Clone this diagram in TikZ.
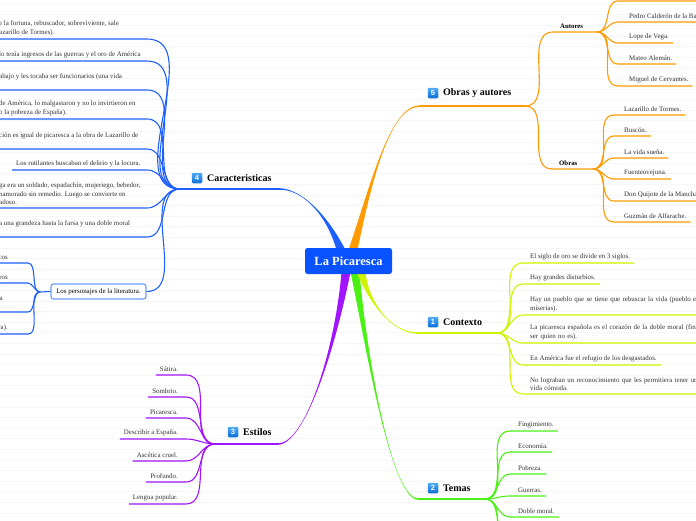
\documentclass[tikz,border=0pt]{standalone}
\usepackage{fontspec}
\setmainfont{Liberation Serif}
\setsansfont{Liberation Sans}
\usepackage{xcolor}
\usepackage{tikz}
\usetikzlibrary{calc,positioning}

\definecolor{picblue}{RGB}{8,82,255}
\definecolor{carblue}{RGB}{30,95,255}
\definecolor{boxblue}{RGB}{110,155,255}
\definecolor{obrorange}{RGB}{255,155,0}
\definecolor{conyellow}{RGB}{205,245,0}
\definecolor{temgreen}{RGB}{75,240,20}
\definecolor{estpurple}{RGB}{160,20,255}
\definecolor{iconlight}{RGB}{80,170,245}
\definecolor{icondark}{RGB}{10,110,215}
\definecolor{leafgray}{RGB}{50,50,50}

\begin{document}
\begin{tikzpicture}[x=1pt, y=-1pt,
    leaf/.style={font=\fontsize{6.9}{8.4}\selectfont, text=leafgray, inner xsep=4pt, inner ysep=3pt, align=left},
    wideleaf/.style={leaf, text width=230pt},
    title/.style={font=\fontsize{10}{12}\selectfont\bfseries, inner sep=0pt},
    sub/.style={font=\fontsize{6.8}{8}\selectfont\bfseries, inner xsep=7pt, inner ysep=3pt},
    icon/.style={top color=iconlight, bottom color=icondark, rounded corners=1.2pt, text=white,
        font=\fontsize{7.5}{7.5}\selectfont\sffamily\bfseries, minimum size=10.5pt, inner sep=0pt},
    twig/.style={line width=1.1pt},
    bough/.style={line width=1.6pt},
    root/.style={fill=picblue, text=white, rounded corners=2.5pt, minimum width=87pt, minimum height=26pt,
        font=\fontsize{12.5}{14}\selectfont\bfseries},
    pbox/.style={leaf, text=black, fill=white, draw=boxblue, line width=1.2pt, rounded corners=2.5pt,
        minimum width=95pt, minimum height=15pt, inner ysep=0pt},
    gridline/.style={black!3.5, line width=0.6pt}]
    \useasboundingbox (0,0) rectangle (696,520);
    \clip (0,0) rectangle (696,520);
    \foreach \k in {0,...,49}
        \draw[gridline] (0,{4+\k*10.6}) -- (696,{4+\k*10.6});

    \coordinate (r4) at (341,250);
    \coordinate (r5) at (353,250);
    \coordinate (r3) at (346,272);
    \coordinate (r2) at (355,272);
    \coordinate (r1) at (361,272);
    \coordinate (e4) at (280,189);
    \coordinate (e5) at (420,106);
    \coordinate (e3) at (278,444);
    \coordinate (e2) at (418,499);
    \coordinate (e1) at (418,333);
    \coordinate (h4) at (180,189);
    \coordinate (h5) at (525,106);
    \coordinate (h3) at (215,444);
    \coordinate (h2) at (485,499);
    \coordinate (h1) at (497,333);

    \foreach \col/\r/\e/\ca/\cb/\s in {carblue/r4/e4/{326,212}/{300,189}/1,
        obrorange/r5/e5/{372,180}/{390,106}/-1, estpurple/r3/e3/{335,350}/{305,444}/-1,
        temgreen/r2/e2/{365,340}/{390,499}/1, conyellow/r1/e1/{368,300}/{390,333}/1} {
        \fill[\col] ($(\r)+(-4.5,0)$) .. controls (\ca) and (\cb) .. ($(\e)+(0,{\s*0.8})$)
            -- ($(\e)-(0,{\s*0.8})$) .. controls (\cb) and (\ca) .. ($(\r)+(4.5,0)$) -- cycle;
    }
    \draw[bough, carblue] (e4) -- (h4);
    \draw[bough, obrorange] (e5) -- (h5);
    \draw[bough, estpurple] (e3) -- (h3);
    \draw[bough, temgreen] (e2) -- (h2);
    \draw[bough, conyellow] (e1) -- (h1);

    \node[root] (pic) at (348.5,261) {La Picaresca};

    \node[icon] (i4) at (197,178) {4};
    \node[title, right=4.5pt of i4] (t4) {Caracteristicas};
    \node[icon] (i5) at (433,93) {5};
    \node[title, right=4.5pt of i5] (t5) {Obras y autores};
    \node[icon] (i1) at (433,322) {1};
    \node[title, right=4.5pt of i1] (t1) {Contexto};
    \node[icon] (i2) at (433,488) {2};
    \node[title, right=4.5pt of i2] (t2) {Temas};
    \node[icon] (i3) at (233,432) {3};
    \node[title, right=4.5pt of i3] (t3) {Estilos};

    \coordinate (c4x) at (147,0);
    \node[leaf, anchor=south west] (ca) at (-5,39) {e la fortuna, rebuscador, sobreviviente, sale\\azarillo de Tormes).};
    \node[leaf, anchor=south west] (cb) at (-5,61) {lo tenía ingresos de las guerras y el oro de América};
    \node[leaf, anchor=south west] (cc) at (-5,90) {abajo y les tocaba ser funcionarios (una vida\\\mbox{}};
    \node[leaf, anchor=south west] (cd) at (-5,119) {de América, lo malgastaron y no lo invirtieron en\\o la pobreza de España).};
    \node[leaf, anchor=south west] (ce) at (-5,149) {ción es igual de picaresca a la obra de Lazarillo de\\\mbox{}};
    \node[leaf, anchor=south west] (cf) at (12,170) {Los rutilantes buscaban el delirio y la locura.};
    \node[leaf, anchor=south west] (cg) at (-5,208) {ga era un soldado, espadachín, mujeriego, bebedor,\\namorado sin remedio. Luego se convierte en\\adoso.};
    \node[leaf, anchor=south west] (ch) at (-5,237) {a una grandeza hasta la farsa y una doble moral\\\mbox{}};
    \foreach \n in {ca,cb,cc,cd,ce,cf,cg,ch}
        \draw[twig, carblue] (\n.south west) -- (\n.south west -| c4x) to[out=0,in=180] (h4);

    \node[pbox] (pers) at (98.5,291.5) {Los personajes de la literatura.};
    \draw[twig, carblue] (pers.east) to[out=0,in=180] (h4);
    \coordinate (pH) at (40,292);
    \coordinate (p4x) at (28,0);
    \draw[twig, carblue] (pers.west) -- (pH);
    \node[leaf, anchor=south east] (pa) at (12,263) {icos};
    \node[leaf, anchor=south east] (pb) at (12,283) {ros};
    \node[leaf, anchor=south east] (pc) at (7,312) {a\\\mbox{}};
    \node[leaf, anchor=south east] (pd) at (12,334) {ra).};
    \foreach \n in {pa,pb,pc,pd}
        \draw[twig, carblue] (\n.south west) -- (\n.south west -| p4x) to[out=0,in=180, looseness=0.8] (pH);

    \coordinate (e3x) at (186,0);
    \node[leaf, anchor=south east] (sa) at (182,375) {Sátira.};
    \node[leaf, anchor=south east] (sb) at (182,397) {Sombrio.};
    \node[leaf, anchor=south east] (sc) at (182,418) {Picaresca.};
    \node[leaf, anchor=south east] (sd) at (182,439) {Describir a España.};
    \node[leaf, anchor=south east] (se) at (182,461) {Ascética cruel.};
    \node[leaf, anchor=south east] (sf) at (182,482) {Profundo.};
    \node[leaf, anchor=south east] (sg) at (182,504) {Lengua popular.};
    \foreach \n in {sa,sb,sc,sd,se,sf,sg}
        \draw[twig, estpurple] (\n.south west) -- (\n.south west -| e3x) to[out=0,in=180] (h3);

    \coordinate (k1x) at (523,0);
    \node[leaf, anchor=south west] (ka) at (526,263) {El siglo de oro se divide en 3 siglos.};
    \node[leaf, anchor=south west] (kb) at (526,284) {Hay grandes disturbios.};
    \node[wideleaf, anchor=south west] (kc) at (526,315) {Hay un pueblo que se tiene que rebuscar la vida (pueblo en\\miserias).};
    \node[wideleaf, anchor=south west] (kd) at (526,343) {La picaresca española es el corazón de la doble moral (fingir\\ser quien no es).};
    \node[leaf, anchor=south west] (ke) at (526,365) {En América fue el refugio de los desgastados.};
    \node[wideleaf, anchor=south west] (kf) at (526,394) {No lograban un reconocimiento que les permitiera tener una\\vida cómoda.};
    \foreach \n in {ka,kb,kc,kd,ke,kf}
        \draw[twig, conyellow] (h1) to[out=0,in=180] (\n.south west -| k1x) -- (\n.south east);

    \coordinate (t2x) at (510,0);
    \node[leaf, anchor=south west] (ma) at (514,431) {Fingimiento.};
    \node[leaf, anchor=south west] (mb) at (514,452) {Economía.};
    \node[leaf, anchor=south west] (mc) at (514,474) {Pobreza.};
    \node[leaf, anchor=south west] (md) at (514,496) {Guerras.};
    \node[leaf, anchor=south west] (me) at (514,517) {Doble moral.};
    \foreach \n in {ma,mb,mc,md,me}
        \draw[twig, temgreen] (h2) to[out=0,in=180] (\n.south west -| t2x) -- (\n.south east);
    \coordinate (mf) at (510,539);
    \coordinate (mg) at (510,561);
    \draw[twig, temgreen] (h2) to[out=0,in=180] (mf) -- ++(50,0);
    \draw[twig, temgreen] (h2) to[out=0,in=180] (mg) -- ++(50,0);

    \node[sub, anchor=south west] (aut) at (553,32) {Autores};
    \node[sub, anchor=south west] (obr) at (552,169) {Obras};
    \coordinate (aH) at (597,32);
    \coordinate (oH) at (593,169);
    \draw[twig, obrorange] (h5) to[out=0,in=180] (aut.south west) -- (aH);
    \draw[twig, obrorange] (h5) to[out=0,in=180] (obr.south west) -- (oH);

    \coordinate (a5x) at (618,0);
    \coordinate (aTop) at (618,1);
    \draw[twig, obrorange] (aH) to[out=0,in=180] (aTop) -- ++(90,0);
    \node[leaf, anchor=south west] (aa) at (625,22) {Pedro Calderón de la Barca.};
    \node[leaf, anchor=south west] (ab) at (625,43) {Lope de Vega.};
    \node[leaf, anchor=south west] (ac) at (625,64) {Mateo Alemán.};
    \node[leaf, anchor=south west] (ad) at (625,86) {Miguel de Cervantes.};
    \foreach \n in {aa,ab,ac,ad}
        \draw[twig, obrorange] (aH) to[out=0,in=180] (\n.south west -| a5x) -- (\n.south east);

    \coordinate (o5x) at (614,0);
    \node[leaf, anchor=south west] (oa) at (620,115) {Lazarillo de Tormes.};
    \node[leaf, anchor=south west] (ob) at (620,136) {Buscón.};
    \node[leaf, anchor=south west] (oc) at (620,158) {La vida sueña.};
    \node[leaf, anchor=south west] (od) at (620,179) {Fuenteovejuna.};
    \node[leaf, anchor=south west] (oe) at (620,201) {Don Quijote de la Mancha.};
    \node[leaf, anchor=south west] (of) at (620,222) {Guzmán de Alfarache.};
    \foreach \n in {oa,ob,oc,od,oe,of}
        \draw[twig, obrorange] (oH) to[out=0,in=180] (\n.south west -| o5x) -- (\n.south east);
\end{tikzpicture}
\end{document}
